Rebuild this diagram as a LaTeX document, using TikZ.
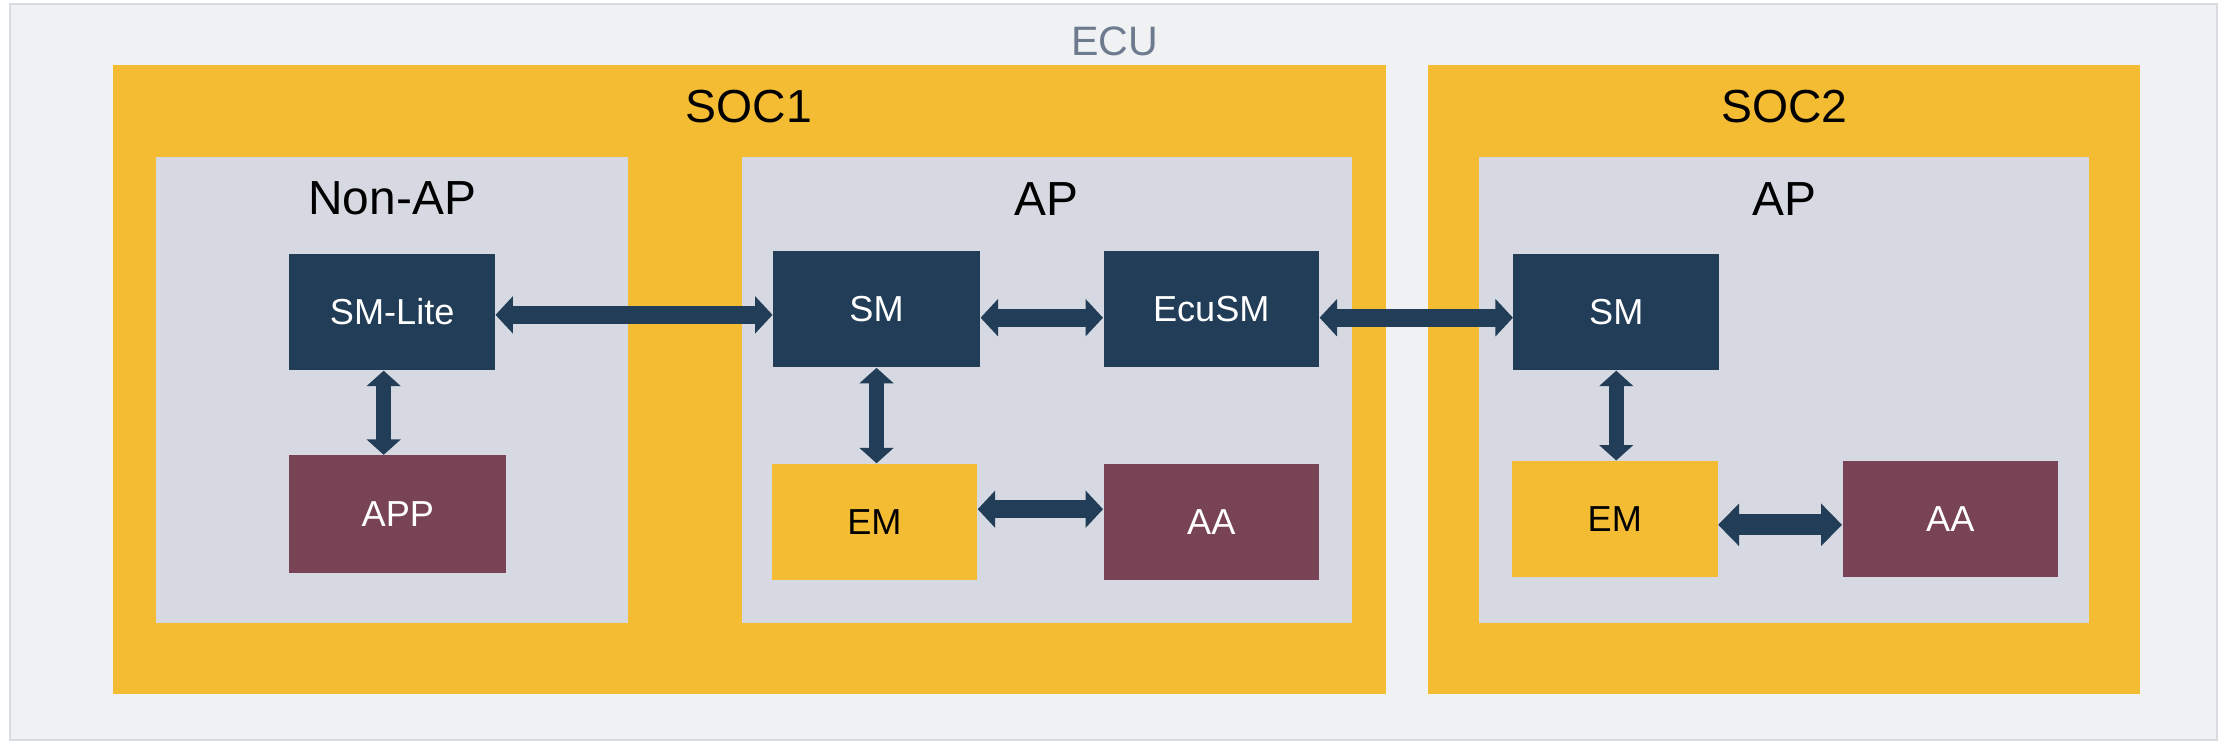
\documentclass[tikz,border=0pt]{standalone}
\usepackage{fontspec}
\setmainfont{Liberation Sans}
\usetikzlibrary{arrows.meta}
\definecolor{ecubg}{HTML}{F0F1F3}
\definecolor{ecuborder}{HTML}{D8DBE0}
\definecolor{ecutext}{HTML}{6E7A8E}
\definecolor{socyellow}{HTML}{F3BC33}
\definecolor{panelgray}{HTML}{D6D9E1}
\definecolor{navy}{HTML}{223D57}
\definecolor{maroon}{HTML}{774355}
\tikzset{
  box/.style={rectangle, inner sep=0pt, minimum height=1.64cm, font=\fontsize{14.5}{17}\selectfont},
  navybox/.style={box, fill=navy, text=white},
  maroonbox/.style={box, fill=maroon, text=white},
  yellowbox/.style={box, fill=socyellow, text=black},
  biglabel/.style={font=\fontsize{19.2}{23}\selectfont, text=black},
  soclabel/.style={font=\fontsize{18.6}{22}\selectfont, text=black},
  harrow/.style={navy, line width=7.2pt, {Triangle[length=7pt,width=14.6pt]}-{Triangle[length=7pt,width=14.6pt]}},
  varrow/.style={navy, line width=6pt, {Triangle[length=6.2pt,width=13.4pt]}-{Triangle[length=6.2pt,width=13.4pt]}},
  bigarrow/.style={navy, line width=8.4pt, {Triangle[length=8.4pt,width=16.6pt]}-{Triangle[length=8.4pt,width=16.6pt]}},
}
\begin{document}
\begin{tikzpicture}[x=0.02cm,y=-0.02cm]
\useasboundingbox (0,0) rectangle (1568,525);
% ECU
\draw[fill=ecubg, draw=ecuborder, line width=0.8pt] (7,3) rectangle (1563,522);
\node[font=\fontsize{16.5}{20}\selectfont, text=ecutext] (ecul) at (786,29) {ECU};
% SOCs
\fill[socyellow] (80,46) rectangle (977,489);
\node[soclabel] (soc1l) at (528,75) {SOC1};
\fill[socyellow] (1007,46) rectangle (1509,489);
\node[soclabel] (soc2l) at (1258,75) {SOC2};
% Panels
\fill[panelgray] (110,111) rectangle (443,439);
\node[biglabel] (nonapl) at (276.5,140) {Non-AP};
\fill[panelgray] (523,111) rectangle (953,439);
\node[biglabel] (ap1l) at (738,140) {AP};
\fill[panelgray] (1043,111) rectangle (1473,439);
\node[biglabel] (ap2l) at (1258,140) {AP};
% Boxes
\node[navybox, minimum width=2.9cm] (smlite) at (276.5,220) {SM-Lite};
\node[maroonbox, minimum width=3.06cm, minimum height=1.66cm] (app) at (280.5,362.5) {APP};
\node[navybox, minimum width=2.92cm] (sm1) at (618,218) {SM};
\node[navybox, minimum width=3.04cm] (ecusm) at (854,218) {EcuSM};
\node[yellowbox, minimum width=2.9cm] (em1) at (616.5,368) {EM};
\node[maroonbox, minimum width=3.04cm] (aa1) at (854,368) {AA};
\node[navybox, minimum width=2.9cm] (sm2) at (1139.5,220) {SM};
\node[yellowbox, minimum width=2.9cm] (em2) at (1138.5,366) {EM};
\node[maroonbox, minimum width=3.04cm] (aa2) at (1375,366) {AA};
% Arrows
\draw[harrow] ([yshift=-2*0.02cm]smlite.east) -- ([yshift=-2*0.02cm]smlite.east -| sm1.west);
\draw[harrow] ([yshift=-6*0.02cm]sm1.east) -- ([yshift=-6*0.02cm]sm1.east -| ecusm.west);
\draw[harrow] ([yshift=-6*0.02cm]ecusm.east) -- ([yshift=-6*0.02cm]ecusm.east -| sm2.west);
\draw[varrow] ([xshift=-6*0.02cm]smlite.south) -- ([xshift=-6*0.02cm]smlite.south |- app.north);
\draw[varrow] (sm1.south) -- (sm1.south |- em1.north);
\draw[varrow] (sm2.south) -- (sm2.south |- em2.north);
\draw[harrow] ([yshift=9*0.02cm]em1.east) -- ([yshift=9*0.02cm]em1.east -| aa1.west);
\draw[bigarrow] ([yshift=-4*0.02cm]em2.east) -- ([yshift=-4*0.02cm]em2.east -| aa2.west);
\end{tikzpicture}
\end{document}
